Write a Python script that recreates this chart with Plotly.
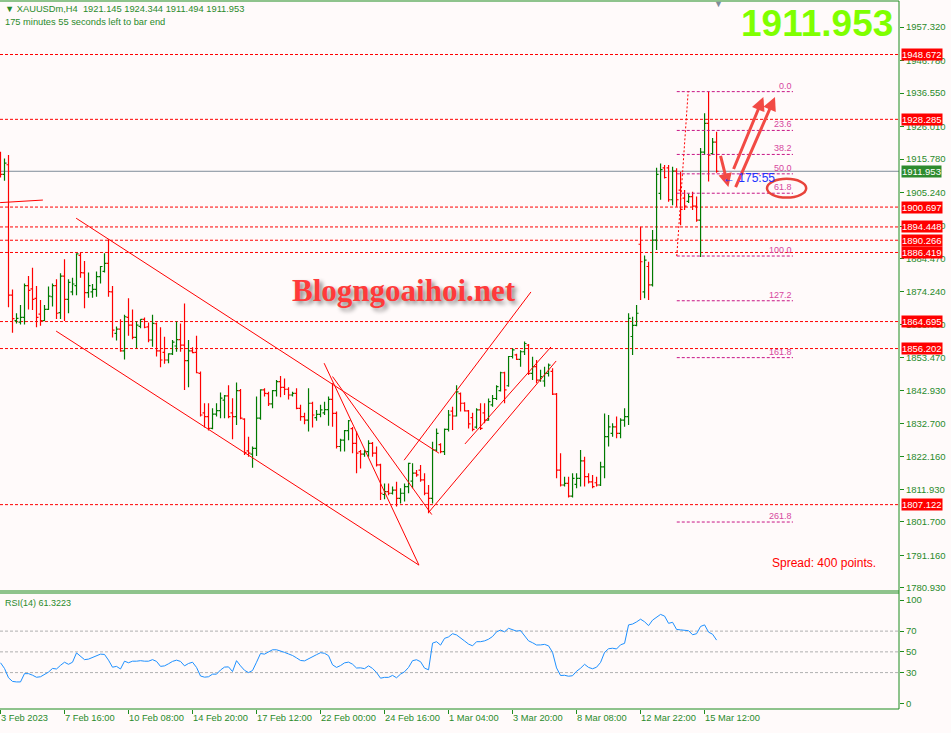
import plotly.graph_objects as go

# ---- data ----
opens = [1917.0, 1911.0, 1914.0, 1873.0, 1865.0, 1864.5, 1866.0, 1876.0, 1875.0, 1872.0,
         1867.0, 1865.0, 1868.5, 1872.5, 1876.0, 1867.5, 1879.0, 1871.7, 1874.0, 1876.0,
         1885.5, 1880.0, 1873.8, 1874.0, 1874.8, 1878.8, 1880.5, 1883.0, 1874.0, 1861.0,
         1862.3, 1855.5, 1866.0, 1863.6, 1859.7, 1863.2, 1865.4, 1863.0, 1858.9, 1864.0,
         1855.5, 1855.0, 1852.6, 1854.5, 1857.0, 1859.0, 1857.3, 1852.4, 1855.5, 1855.0,
         1848.4, 1836.0, 1834.8, 1831.1, 1835.6, 1836.7, 1840.0, 1841.3, 1836.0, 1834.8,
         1843.0, 1834.0, 1824.0, 1823.0, 1824.8, 1834.3, 1843.2, 1842.0, 1838.8, 1843.0,
         1845.8, 1844.0, 1843.4, 1841.6, 1842.1, 1837.4, 1834.8, 1833.7, 1839.0, 1834.5,
         1835.5, 1836.0, 1837.0, 1840.2, 1835.8, 1825.4, 1827.4, 1830.4, 1831.0, 1826.4,
         1823.8, 1823.0, 1823.8, 1826.4, 1823.3, 1819.6, 1810.3, 1811.2, 1810.7, 1811.7,
         1809.1, 1810.7, 1812.8, 1814.5, 1817.0, 1818.0, 1814.9, 1810.7, 1809.1, 1824.3,
         1826.0, 1823.8, 1830.8, 1836.5, 1835.0, 1842.0, 1839.0, 1836.6, 1834.5, 1831.5,
         1836.9, 1836.0, 1833.7, 1838.5, 1840.5, 1843.0, 1848.6, 1844.5, 1853.7, 1854.2,
         1852.8, 1855.2, 1857.3, 1848.4, 1850.5, 1846.3, 1846.0, 1848.4, 1849.0, 1841.9,
         1818.0, 1813.3, 1813.8, 1809.8, 1813.5, 1815.4, 1820.9, 1815.9, 1814.3, 1814.0,
         1813.3, 1819.0, 1828.5, 1829.5, 1831.6, 1829.5, 1833.7, 1834.8, 1860.0, 1863.5,
         1889.0, 1874.0, 1882.0, 1876.2, 1890.3, 1905.0, 1913.0, 1913.0, 1903.0, 1912.0,
         1906.0, 1903.5, 1902.5, 1904.0, 1901.0, 1896.6, 1918.0, 1927.0, 1917.5, 1921.145]
highs = [1918.1, 1916.0, 1917.1, 1874.8, 1867.3, 1869.9, 1876.7, 1879.0, 1881.6, 1875.9,
         1871.5, 1869.9, 1875.7, 1876.7, 1878.0, 1879.9, 1884.3, 1878.0, 1878.5, 1886.2,
         1886.4, 1883.7, 1880.1, 1876.5, 1880.4, 1882.2, 1886.2, 1890.6, 1875.9, 1863.1,
         1865.4, 1866.8, 1872.0, 1868.5, 1864.7, 1865.4, 1866.0, 1864.4, 1866.8, 1864.4,
         1862.9, 1859.9, 1854.7, 1858.9, 1864.7, 1864.1, 1870.4, 1858.9, 1856.6, 1860.2,
         1849.0, 1839.0, 1839.0, 1837.4, 1839.0, 1842.4, 1841.6, 1844.7, 1840.6, 1845.5,
         1843.5, 1834.3, 1828.5, 1825.4, 1841.1, 1843.4, 1843.7, 1842.6, 1843.2, 1846.3,
         1847.6, 1846.8, 1844.0, 1842.6, 1843.7, 1838.5, 1836.0, 1843.7, 1839.5, 1836.9,
         1838.5, 1839.5, 1841.1, 1845.3, 1836.4, 1827.8, 1830.6, 1833.7, 1831.5, 1830.1,
         1824.3, 1824.3, 1827.4, 1826.8, 1825.4, 1820.0, 1813.8, 1813.8, 1812.8, 1814.3,
         1812.3, 1813.8, 1820.3, 1820.1, 1818.0, 1819.6, 1817.0, 1813.3, 1826.9, 1831.1,
         1826.4, 1831.1, 1836.9, 1837.9, 1844.7, 1842.4, 1839.3, 1836.9, 1836.0, 1837.4,
         1839.0, 1839.0, 1840.5, 1841.6, 1844.7, 1848.9, 1848.9, 1853.9, 1856.3, 1854.6,
         1855.7, 1858.4, 1857.6, 1853.6, 1852.6, 1849.5, 1850.5, 1851.5, 1850.0, 1842.2,
         1823.3, 1815.9, 1815.9, 1817.0, 1817.0, 1824.3, 1822.2, 1817.0, 1816.4, 1815.9,
         1820.6, 1835.8, 1835.3, 1832.7, 1834.8, 1834.3, 1837.4, 1867.3, 1866.2, 1869.9,
         1894.5, 1885.5, 1883.5, 1893.5, 1913.1, 1914.4, 1913.9, 1913.9, 1913.4, 1912.9,
         1911.8, 1906.1, 1905.0, 1905.5, 1904.0, 1919.3, 1930.2, 1937.0, 1922.4, 1924.344]
lows = [1910.0, 1909.0, 1869.2, 1861.2, 1864.1, 1863.8, 1863.8, 1868.5, 1868.3, 1862.9,
        1863.4, 1864.9, 1868.3, 1869.4, 1865.5, 1865.5, 1864.9, 1867.3, 1873.0, 1873.0,
        1878.5, 1868.9, 1872.2, 1872.2, 1872.5, 1876.7, 1880.1, 1872.5, 1859.7, 1858.7,
        1855.2, 1852.8, 1860.2, 1859.1, 1856.3, 1862.6, 1862.6, 1858.2, 1856.8, 1853.7,
        1850.3, 1851.4, 1851.6, 1854.2, 1855.2, 1855.2, 1843.2, 1844.0, 1854.7, 1848.4,
        1834.8, 1831.4, 1830.4, 1830.8, 1834.8, 1834.3, 1834.3, 1834.3, 1827.7, 1832.2,
        1834.0, 1822.7, 1822.2, 1818.7, 1822.4, 1833.8, 1841.1, 1838.1, 1837.4, 1841.1,
        1840.9, 1841.6, 1840.2, 1841.1, 1837.1, 1833.5, 1832.4, 1830.1, 1831.4, 1833.5,
        1834.6, 1835.3, 1831.9, 1831.6, 1824.8, 1823.8, 1823.8, 1827.4, 1823.3, 1817.0,
        1818.5, 1822.2, 1822.2, 1822.2, 1819.1, 1808.6, 1808.8, 1810.1, 1810.3, 1806.5,
        1807.5, 1808.1, 1810.7, 1812.3, 1815.9, 1814.3, 1810.1, 1804.4, 1807.5, 1823.8,
        1823.3, 1822.7, 1830.1, 1830.6, 1834.8, 1836.4, 1836.4, 1831.1, 1830.2, 1831.0,
        1830.6, 1832.7, 1833.5, 1837.9, 1840.0, 1842.7, 1839.0, 1844.2, 1853.1, 1852.6,
        1850.5, 1854.2, 1847.9, 1846.3, 1845.3, 1845.8, 1844.2, 1847.4, 1841.6, 1815.4,
        1812.8, 1812.8, 1809.4, 1809.4, 1812.3, 1812.8, 1812.8, 1813.8, 1812.3, 1812.8,
        1813.0, 1815.4, 1825.4, 1828.5, 1828.0, 1828.0, 1831.6, 1832.2, 1854.2, 1863.2,
        1871.5, 1872.0, 1871.5, 1875.7, 1887.2, 1903.0, 1909.7, 1902.4, 1901.3, 1900.8,
        1895.0, 1899.8, 1902.0, 1899.8, 1896.1, 1885.0, 1917.1, 1908.7, 1917.1, 1911.494]
closes = [1911.0, 1914.5, 1873.0, 1865.6, 1865.7, 1866.0, 1876.0, 1874.5, 1871.7, 1866.0,
          1865.0, 1868.5, 1872.7, 1876.0, 1867.3, 1879.0, 1871.7, 1877.0, 1876.5, 1886.0,
          1880.1, 1873.8, 1876.0, 1874.8, 1878.8, 1882.0, 1883.0, 1874.1, 1862.0, 1862.3,
          1855.5, 1866.2, 1863.6, 1859.7, 1863.6, 1865.4, 1862.9, 1858.9, 1864.1, 1855.5,
          1852.6, 1852.6, 1854.5, 1858.2, 1859.0, 1857.3, 1852.4, 1855.5, 1854.9, 1848.6,
          1835.3, 1834.8, 1831.1, 1835.6, 1836.7, 1840.6, 1841.3, 1834.8, 1834.8, 1843.0,
          1834.3, 1823.5, 1823.3, 1824.8, 1834.3, 1843.2, 1842.1, 1838.8, 1843.0, 1845.8,
          1844.0, 1843.4, 1841.6, 1842.1, 1837.4, 1834.8, 1833.7, 1839.0, 1835.3, 1835.5,
          1836.9, 1837.0, 1840.2, 1835.8, 1825.4, 1827.4, 1830.4, 1833.5, 1826.4, 1823.3,
          1823.0, 1823.8, 1826.4, 1823.3, 1819.6, 1810.7, 1811.2, 1810.7, 1811.7, 1809.1,
          1810.7, 1812.8, 1820.1, 1817.0, 1816.5, 1814.9, 1810.7, 1809.1, 1824.3, 1829.5,
          1823.8, 1830.8, 1835.3, 1835.0, 1842.6, 1839.0, 1836.6, 1832.5, 1830.8, 1836.9,
          1831.1, 1833.7, 1839.5, 1840.5, 1844.2, 1848.6, 1843.2, 1853.7, 1855.8, 1852.8,
          1855.2, 1857.8, 1848.4, 1850.5, 1846.3, 1847.4, 1848.4, 1851.0, 1841.9, 1818.0,
          1813.3, 1813.8, 1809.8, 1815.4, 1815.4, 1820.9, 1815.9, 1814.3, 1812.8, 1813.3,
          1819.0, 1828.5, 1831.6, 1831.6, 1829.5, 1833.7, 1834.8, 1865.7, 1863.5, 1867.3,
          1883.5, 1884.0, 1876.2, 1890.3, 1911.0, 1912.5, 1910.0, 1903.0, 1912.0, 1903.0,
          1900.0, 1901.0, 1904.0, 1901.0, 1896.6, 1918.0, 1927.0, 1917.0, 1921.1, 1911.953]
rsi = [39.5, 34.0, 25.0, 21.5, 21.0, 21.0, 29.0, 29.0, 27.5, 25.5,
       26.0, 28.0, 30.5, 34.0, 33.5, 37.0, 40.0, 38.0, 40.0, 49.0,
       45.5, 42.5, 43.0, 44.5, 46.5, 47.8, 47.5, 42.0, 35.2, 36.0,
       33.5, 41.0, 39.5, 41.0, 41.0, 41.5, 41.0, 41.0, 42.5, 40.8,
       36.0, 36.5, 38.5, 40.8, 42.0, 40.8, 36.5, 38.8, 40.0, 35.0,
       26.7, 25.6, 26.0, 28.5, 28.5, 32.5, 35.3, 35.5, 31.0, 41.5,
       36.5, 32.2, 30.0, 32.0, 40.0, 48.4, 47.8, 50.0, 52.0, 52.0,
       51.0, 49.5, 48.0, 46.5, 44.2, 41.7, 41.3, 43.5, 45.8, 47.3,
       49.2, 48.6, 46.3, 37.5, 35.0, 36.8, 39.4, 40.1, 38.1, 34.4,
       34.6, 33.8, 36.5, 34.0, 30.1, 24.6, 25.4, 25.4, 27.3, 25.0,
       28.5, 30.8, 35.0, 41.5, 42.4, 40.5, 34.3, 32.7, 58.4, 59.8,
       56.5, 63.0, 64.4, 67.5, 66.3, 63.7, 60.5, 57.5, 55.8, 59.8,
       59.8, 60.6, 62.2, 64.8, 69.3, 71.0, 69.3, 72.7, 71.7, 70.0,
       70.5, 65.0, 60.6, 58.8, 56.6, 56.7, 57.2, 55.8, 49.5, 34.5,
       27.2, 27.4, 26.5, 27.0, 31.3, 34.2, 38.0, 35.0, 33.7, 35.2,
       39.8, 49.5, 53.0, 53.5, 52.8, 56.8, 58.2, 76.0, 76.8, 78.9,
       81.5, 79.0, 75.3, 80.6, 83.6, 86.1, 84.5, 77.5, 78.5, 71.6,
       71.2, 70.5, 70.4, 66.5, 67.5, 74.5, 76.0, 69.0, 67.0, 61.3223]
bars = list(range(len(closes)))

price_ticks = [1957.32, 1946.78, 1936.55, 1926.01, 1915.78, 1905.24, 1894.71, 1884.47, 1874.24,
               1863.70, 1853.47, 1842.93, 1832.70, 1822.16, 1811.93, 1801.70, 1791.16, 1780.93]
levels = [1948.672, 1928.285, 1900.697, 1894.448, 1890.266, 1886.419, 1864.695, 1856.202, 1807.122]
bid = 1911.953
date_ticks = [0, 16, 32, 48, 64, 80, 96, 112, 128, 144, 160, 176]
date_labels = ["3 Feb 2023", "7 Feb 16:00", "10 Feb 08:00", "14 Feb 20:00", "17 Feb 12:00",
               "22 Feb 00:00", "24 Feb 16:00", "1 Mar 04:00", "3 Mar 20:00", "8 Mar 08:00",
               "12 Mar 22:00", "15 Mar 12:00"]
rsi_ticks = [100, 70, 50, 30, 0]
rsi_levels = [70, 50, 30]

fib_high, fib_low = 1937.0, 1885.3
fib_ratios = [0.0, 23.6, 38.2, 50.0, 61.8, 100.0, 127.2, 161.8, 261.8]
fib_start, fib_end = 169.05, 198.1

# trend lines drawn on the chart: (bar0, price0, bar1, price1)
trend_lines = [
    (18.9, 1897.2, 109.6, 1823.3),
    (13.9, 1861.7, 104.6, 1788.1),
    (80.9, 1851.6, 104.6, 1788.1),
    (83.0, 1847.4, 107.8, 1804.0),
    (100.9, 1821.1, 132.6, 1874.0),
    (106.9, 1804.5, 138.9, 1852.3),
    (116.1, 1826.2, 137.6, 1856.7),
    (-0.1, 1902.1, 10.6, 1902.9),
]

GREEN_TXT = "#2A8A2A"
FRAME = "#1E8C1E"
FONT = "Liberation Sans"

fig = go.Figure()
fig.add_trace(go.Ohlc(
    x=bars, open=opens, high=highs, low=lows, close=closes,
    increasing_line_color="#007A00", decreasing_line_color="#FF0000",
    line_width=1.2, tickwidth=0.5, xaxis="x", yaxis="y",
    showlegend=False, hoverinfo="skip",
))
fig.add_trace(go.Scatter(
    x=bars, y=rsi, mode="lines", line=dict(color="#1E90FF", width=1),
    xaxis="x2", yaxis="y2", showlegend=False, hoverinfo="skip",
))

shapes = []
for lv in levels:
    shapes.append(dict(type="line", xref="paper", yref="y", x0=0, x1=1, y0=lv, y1=lv,
                       line=dict(color="#FF0000", width=1, dash="3px,2px"), layer="below"))
shapes.append(dict(type="line", xref="paper", yref="y", x0=0, x1=1, y0=bid, y1=bid,
                   line=dict(color="#7F8C99", width=1), layer="below"))
for x0, y0, x1, y1 in trend_lines:
    shapes.append(dict(type="line", xref="x", yref="y", x0=x0, y0=y0, x1=x1, y1=y1,
                       line=dict(color="#FF0000", width=1)))

annotations = []
for r in fib_ratios:
    p = fib_high - (fib_high - fib_low) * r / 100
    shapes.append(dict(type="line", xref="x", yref="y", x0=fib_start, x1=fib_end, y0=p, y1=p,
                       line=dict(color="#C71585", width=1, dash="3px,2px")))
    annotations.append(dict(x=fib_end + 0.2, y=p, xref="x", yref="y", text=f"{r:.1f}",
                            showarrow=False, xanchor="right", yanchor="middle", yshift=6,
                            font=dict(family=FONT, size=9, color="#D6479E")))
shapes.append(dict(type="line", xref="x", yref="y", x0=fib_start, y0=fib_low,
                   x1=171.9, y1=fib_high, line=dict(color="#FF0000", width=1, dash="2px,2px")))

# circle round the 61.8 label
shapes.append(dict(type="circle", xref="x", yref="y", x0=191.6, x1=201.4, y0=1903.7, y1=1909.6,
                   line=dict(color="#E8433A", width=2.5)))

# RSI levels
for lv in rsi_levels:
    shapes.append(dict(type="line", xref="paper", yref="y2", x0=0, x1=1, y0=lv, y1=lv,
                       line=dict(color="#B0B0B0", width=1, dash="3px,2px"), layer="below"))

# frames
H = 708.0
def py(v):
    return (709 - v) / H
for y in (py(1), py(591), py(593), py(709)):
    shapes.append(dict(type="line", xref="paper", yref="paper", x0=0, x1=1, y0=y, y1=y,
                       line=dict(color=FRAME, width=1)))
shapes.append(dict(type="line", xref="paper", yref="paper", x0=1, x1=1, y0=0, y1=1,
                   line=dict(color=FRAME, width=1)))

# price labels on the right scale
for lv in levels:
    annotations.append(dict(x=1.002, y=lv, xref="paper", yref="y", text=f"{lv:.3f}",
                            showarrow=False, xanchor="left", yanchor="middle",
                            bgcolor="#FF0000", borderpad=0,
                            font=dict(family=FONT, size=9.5, color="white")))
annotations.append(dict(x=1.002, y=bid, xref="paper", yref="y", text=f"{bid:.3f}",
                        showarrow=False, xanchor="left", yanchor="middle",
                        bgcolor="#2E8B2E", borderpad=0,
                        font=dict(family=FONT, size=9.5, color="white")))

# arrows
arrow_style = dict(showarrow=True, arrowcolor="#F24A44", arrowwidth=3, arrowhead=2,
                   arrowsize=0.9, xref="x", yref="y", axref="x", ayref="y", text="")
annotations.append(dict(x=181.95, y=1907.0, ax=179.9, ay=1917.3, **arrow_style))
annotations.append(dict(x=190.7, y=1935.3, ax=183.1, ay=1912.2, **arrow_style))
annotations.append(dict(x=193.6, y=1935.3, ax=183.6, ay=1906.5, **arrow_style))

# texts
annotations += [
    dict(x=0.0033, y=py(9), xref="paper", yref="paper", xanchor="left", yanchor="middle",
         showarrow=False, text="▼ XAUUSDm,H4  1921.145 1924.344 1911.494 1911.953",
         font=dict(family=FONT, size=9.3, color=GREEN_TXT)),
    dict(x=0.0033, y=py(22), xref="paper", yref="paper", xanchor="left", yanchor="middle",
         showarrow=False, text="175 minutes 55 seconds left to bar end",
         font=dict(family=FONT, size=9.3, color=GREEN_TXT)),
    dict(x=895 / 899, y=py(24), xref="paper", yref="paper", xanchor="right", yanchor="middle",
         showarrow=False, text="<b>1911.953</b>",
         font=dict(family=FONT, size=37, color="#7FFF00")),
    dict(x=0.4494, y=py(290), xref="paper", yref="paper", xanchor="center", yanchor="middle",
         showarrow=False, text="<b>Blogngoaihoi.net</b>",
         font=dict(family="Liberation Serif", size=31, color="#FF3A3A",
                   shadow="3px 3px 4px rgba(0,0,0,0.45)")),
    dict(x=878 / 899, y=py(563), xref="paper", yref="paper", xanchor="right", yanchor="middle",
         showarrow=False, text="Spread: 400 points.",
         font=dict(family=FONT, size=12, color="#FF0000")),
    dict(x=180.1, y=1909.7, xref="x", yref="y", xanchor="left", yanchor="middle",
         showarrow=False, text="← 175:55",
         font=dict(family=FONT, size=12, color="#2233FF")),
    dict(x=0.0033, y=py(603), xref="paper", yref="paper", xanchor="left", yanchor="middle",
         showarrow=False, text="RSI(14) 61.3223",
         font=dict(family=FONT, size=9, color=GREEN_TXT)),
    dict(x=718 / 899, y=py(4), xref="paper", yref="paper", xanchor="center", yanchor="middle",
         showarrow=False, text="▼", font=dict(family=FONT, size=9, color="#7F8C99")),
]

xrange = [-0.125, 224.6]
fig.update_layout(
    width=951, height=733,
    margin=dict(l=0, r=52, t=1, b=24),
    paper_bgcolor="#FFFAFA", plot_bgcolor="#FFFAFA",
    font=dict(family=FONT, size=10, color=GREEN_TXT),
    showlegend=False,
    shapes=shapes, annotations=annotations,
    xaxis=dict(domain=[0, 1], range=xrange, anchor="y", showticklabels=False,
               showgrid=False, zeroline=False, showline=False, ticks="",
               rangeslider=dict(visible=False)),
    xaxis2=dict(domain=[0, 1], range=xrange, anchor="y2", matches="x",
                tickvals=date_ticks, ticktext=date_labels, ticks="outside", ticklen=4,
                tickcolor=FRAME, ticklabelposition="outside right", tickangle=0,
                showgrid=False, zeroline=False, showline=False,
                tickfont=dict(family=FONT, size=9.3, color=GREEN_TXT)),
    yaxis=dict(domain=[py(591), 1], range=[1779.96, 1965.5], side="right", anchor="x",
               tickvals=price_ticks, ticktext=[f"{v:.3f}" for v in price_ticks],
               ticks="outside", ticklen=4, tickcolor=FRAME, showgrid=False,
               zeroline=False, showline=False,
               tickfont=dict(family=FONT, size=9.5, color=GREEN_TXT)),
    yaxis2=dict(domain=[0, py(593)], range=[-5.1, 106.75], side="right", anchor="x2",
                tickvals=rsi_ticks, ticktext=[str(v) for v in rsi_ticks],
                ticks="outside", ticklen=4, tickcolor=FRAME, showgrid=False,
                zeroline=False, showline=False,
                tickfont=dict(family=FONT, size=9.5, color=GREEN_TXT)),
)

fig.write_html("out.html", config={"displayModeBar": False},
               post_script="document.body.style.margin='0px';")
